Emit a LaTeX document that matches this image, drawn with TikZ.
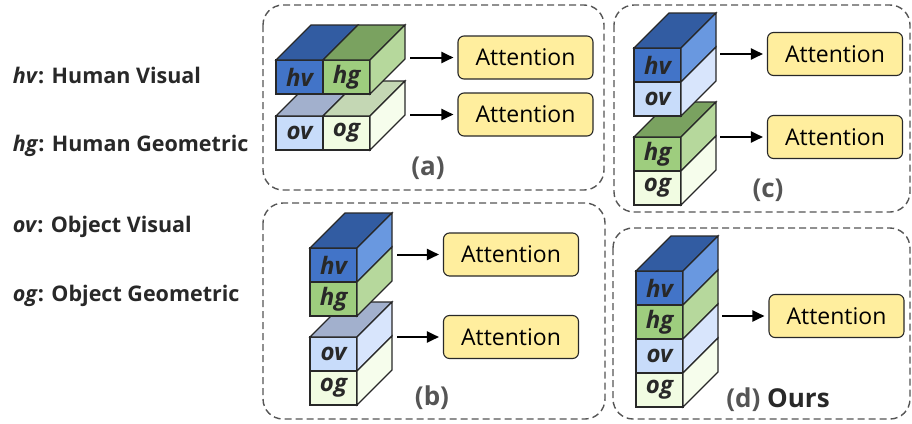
\documentclass[tikz,border=0pt]{standalone}
\usepackage{fontspec}
\setmainfont{Open Sans}
\usetikzlibrary{positioning,calc,arrows.meta}
\definecolor{hvfront}{RGB}{66,116,200}
\definecolor{hvtop}{RGB}{50,92,162}
\definecolor{hvside}{RGB}{105,152,224}
\definecolor{hgfront}{RGB}{158,205,126}
\definecolor{hgtop}{RGB}{122,162,96}
\definecolor{hgside}{RGB}{182,216,156}
\definecolor{ovfront}{RGB}{200,220,250}
\definecolor{ovtop}{RGB}{162,176,205}
\definecolor{ovside}{RGB}{216,229,252}
\definecolor{ogfront}{RGB}{241,252,226}
\definecolor{ogtop}{RGB}{196,215,180}
\definecolor{ogside}{RGB}{246,253,236}
\definecolor{attfill}{RGB}{255,238,158}
\definecolor{edge}{RGB}{40,40,40}
\definecolor{capgray}{RGB}{85,85,85}
\newcommand{\side}[2]{\filldraw[fill=#2] (#1.north east) -- ++(35,-35) -- ($(#1.south east)+(35,-35)$) -- (#1.south east) -- cycle;}
\newcommand{\lid}[2]{\filldraw[fill=#2] (#1.north west) -- ++(35,-35) -- ($(#1.north east)+(35,-35)$) -- (#1.north east) -- cycle;}
\begin{document}
\begin{tikzpicture}[x=1pt,y=-1pt,line width=1.1pt,draw=edge,
  face/.style={draw=edge,rectangle,inner sep=0pt,outer sep=0pt,minimum width=47pt,minimum height=34pt,font=\fontsize{24}{26}\selectfont\bfseries\itshape,text=edge},
  att/.style={draw=edge,fill=attfill,rounded corners=6pt,minimum width=135pt,minimum height=43pt,font=\fontsize{23}{26}\selectfont,text=black},
  frame/.style={draw=capgray,line width=1.4pt,dash pattern=on 7pt off 4pt,rounded corners=20pt},
  arr/.style={-{Triangle[length=12pt,width=11pt]},line width=2pt,black,shorten >=4pt},
  caption/.style={font=\fontsize{26}{28}\selectfont\bfseries,text=capgray},
  key/.style={anchor=base west,font=\fontsize{21.5}{24}\selectfont\bfseries,text=edge}]
\useasboundingbox (0,0) rectangle (912,423);
% legend
\node[key] (khv) at (9,83) {\textit{hv}: Human Visual};
\node[key] (khg) at (9,151) {\textit{hg}: Human Geometric};
\node[key] (kov) at (9,232) {\textit{ov}: Object Visual};
\node[key] (kog) at (9,301) {\textit{og}: Object Geometric};
% frames
\draw[frame] (263,5) rectangle (604,190);
\draw[frame] (263,203) rectangle (605,419);
\draw[frame] (614,5) rectangle (910,212);
\draw[frame] (613,228) rectangle (910,419);
% (a)
\node[face,fill=ovfront,anchor=north west] (ovA) at (276,116) {ov};
\node[face,fill=ogfront,right=0pt of ovA] (ogA) {og};
\lid{ovA}{ovtop} \lid{ogA}{ogtop} \side{ogA}{ogside}
\node[face,fill=hvfront,anchor=north west] (hvA) at (276,60) {hv};
\node[face,fill=hgfront,right=0pt of hvA] (hgA) {hg};
\lid{hvA}{hvtop} \lid{hgA}{hgtop} \side{hgA}{hgside}
\node[att] (attA1) at (525.5,57.5) {Attention};
\node[att] (attA2) at (525.5,114.5) {Attention};
\coordinate (sA1) at (410,57.5);
\coordinate (sA2) at (410,114.5);
\draw[arr] (sA1) -- (attA1.west);
\draw[arr] (sA2) -- (attA2.west);
\node[caption] (capA) at (428,168) {(a)};
% (b)
\node[face,fill=ovfront,anchor=north west] (ovB) at (310,337) {ov};
\node[face,fill=ogfront,below=0pt of ovB] (ogB) {og};
\lid{ovB}{ovtop} \side{ovB}{ovside} \side{ogB}{ogside}
\node[face,fill=hvfront,anchor=north west] (hvB) at (310,248) {hv};
\node[face,fill=hgfront,below=0pt of hvB] (hgB) {hg};
\lid{hvB}{hvtop} \side{hvB}{hvside} \side{hgB}{hgside}
\node[att] (attB1) at (511,254.5) {Attention};
\node[att] (attB2) at (511,337) {Attention};
\coordinate (sB1) at (397,254.5);
\coordinate (sB2) at (397,337);
\draw[arr] (sB1) -- (attB1.west);
\draw[arr] (sB2) -- (attB2.west);
\node[caption] (capB) at (432,398) {(b)};
% (c)
\node[face,fill=hgfront,anchor=north west] (hgC) at (634,137) {hg};
\node[face,fill=ogfront,below=0pt of hgC] (ogC) {og};
\lid{hgC}{hgtop} \side{hgC}{hgside} \side{ogC}{ogside}
\node[face,fill=hvfront,anchor=north west] (hvC) at (634,48) {hv};
\node[face,fill=ovfront,below=0pt of hvC] (ovC) {ov};
\lid{hvC}{hvtop} \side{hvC}{hvside} \side{ovC}{ovside}
\node[att] (attC1) at (835,54) {Attention};
\node[att] (attC2) at (835,137) {Attention};
\coordinate (sC1) at (720,54);
\coordinate (sC2) at (720,137);
\draw[arr] (sC1) -- (attC1.west);
\draw[arr] (sC2) -- (attC2.west);
\node[caption] (capC) at (768,190) {(c)};
% (d) ours
\node[face,fill=hvfront,anchor=north west] (hvD) at (636,271) {hv};
\node[face,fill=hgfront,below=0pt of hvD] (hgD) {hg};
\node[face,fill=ovfront,below=0pt of hgD] (ovD) {ov};
\node[face,fill=ogfront,below=0pt of ovD] (ogD) {og};
\lid{hvD}{hvtop} \side{hvD}{hvside} \side{hgD}{hgside} \side{ovD}{ovside} \side{ogD}{ogside}
\node[att] (attD) at (836.5,316) {Attention};
\coordinate (sD) at (722,316);
\draw[arr] (sD) -- (attD.west);
\node[caption] (capD) at (778,400) {(d) \textcolor{edge}{Ours}};
\end{tikzpicture}
\end{document}
